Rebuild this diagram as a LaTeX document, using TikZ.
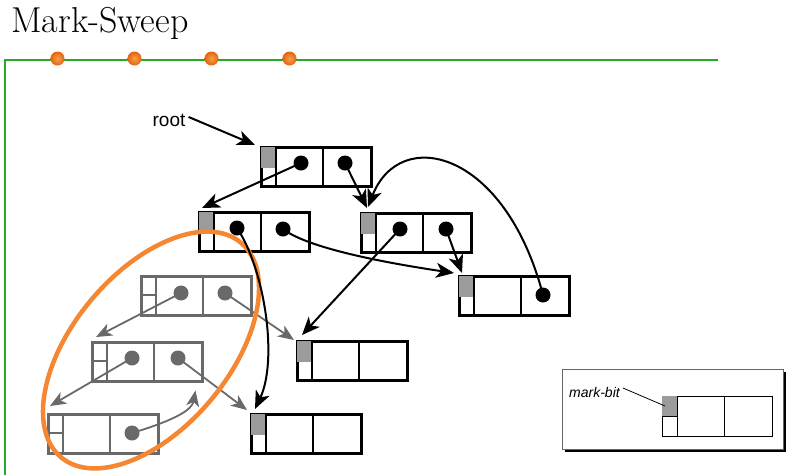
\documentclass[tikz,border=0pt]{standalone}
\usepackage{fontspec}
\usepackage{tikz}
\usetikzlibrary{arrows.meta, shadows, calc}
\newfontfamily\labelfont{Liberation Sans}
\definecolor{framegreen}{RGB}{40,170,40}
\definecolor{dotorange}{RGB}{225,100,20}
\definecolor{dotlight}{RGB}{250,160,70}
\definecolor{ringorange}{RGB}{245,135,50}
\definecolor{markgray}{RGB}{155,155,155}
\definecolor{deadgray}{RGB}{105,105,105}

\tikzset{
  objbox/.style={draw, rectangle, anchor=north west, minimum width=110pt,
    minimum height=39pt, inner sep=0pt, line width=2.5pt},
  deadbox/.style={objbox, draw=deadgray},
  dot/.style={circle, fill, inner sep=0pt, minimum size=15pt},
  deaddot/.style={dot, fill=deadgray},
  ptr/.style={-{Stealth[length=18pt,width=15pt,inset=5pt]}, line width=2pt},
  deadptr/.style={-{Stealth[length=16pt,width=13pt,inset=4.5pt]}, line width=1.8pt, deadgray},
}

\begin{document}
\begin{tikzpicture}[x=1pt, y=-1pt]
    \useasboundingbox (0,0) rectangle (802,475);

    % title and frame
    \node[anchor=base west, inner sep=0pt, font=\fontsize{36}{40}\selectfont] (title) at (11,32) {Mark-Sweep};
    \draw[framegreen, line width=1.3pt] (718,60) -- (5,60) -- (5,475);
    \foreach \x in {59,136,213,291}
        \shade[inner color=dotlight, outer color=dotorange] (\x-1.5,60-1.5) circle (7pt);

    % heap objects
    \node[objbox] (objA) at (260,146) {};
    \node[objbox] (objB) at (198,211) {};
    \node[objbox] (objC) at (360,212) {};
    \node[objbox] (objD) at (458,275) {};
    \node[objbox] (objE) at (296,340) {};
    \node[objbox] (objF) at (250,413) {};
    \node[deadbox] (objG) at (140,275) {};
    \node[deadbox] (objH) at (91,341) {};
    \node[deadbox] (objI) at (47,413) {};

    \foreach \o in {objA,objB,objC,objD,objE,objF} {
        \fill[markgray] ([xshift=1.25pt,yshift=-1.25pt]\o.north west) rectangle ([xshift=14.8pt,yshift=-22pt]\o.north west);
        \draw[line width=2.5pt] ([xshift=16pt]\o.north west) -- ([xshift=16pt]\o.south west)
            ([xshift=63pt]\o.north west) -- ([xshift=63pt]\o.south west);
    }
    \foreach \o in {objG,objH,objI} {
        \draw[deadgray, line width=2.5pt] ([xshift=16pt]\o.north west) -- ([xshift=16pt]\o.south west)
            ([xshift=63pt]\o.north west) -- ([xshift=63pt]\o.south west)
            ([yshift=-20pt]\o.north west) -- ([xshift=16pt,yshift=-20pt]\o.north west);
    }

    % pointers
    \node[dot] (a1) at (301,163) {};
    \node[dot] (a2) at (345,163) {};
    \node[dot] (b1) at (237,228) {};
    \node[dot] (b2) at (283,229) {};
    \node[dot] (c1) at (400,229) {};
    \node[dot] (c2) at (446,229) {};
    \node[dot] (d2) at (543,295) {};
    \node[deaddot] (g1) at (181,293) {};
    \node[deaddot] (g2) at (225,293) {};
    \node[deaddot] (h1) at (132,358) {};
    \node[deaddot] (h2) at (178,358) {};
    \node[deaddot] (i2) at (132,433) {};

    \draw[deadptr] (g1.center) -- ([xshift=5pt,yshift=4pt]objH.north west);
    \draw[deadptr] (g2.center) -- ([xshift=-2pt]objE.north west);
    \draw[deadptr] (h1.center) -- ([xshift=3pt,yshift=7pt]objI.north west);
    \draw[deadptr] (h2.center) -- ([xshift=-3pt,yshift=3pt]objF.north west);
    \draw[deadptr] (i2.center) .. controls (175,420) and (192,410) .. ([xshift=-8pt,yshift=-8pt]objH.south east);

    \draw[ringorange, line width=4.5pt, rotate around={50:(151,350)}] (151,350) ellipse [x radius=140pt, y radius=78pt];

    \node[anchor=base, inner sep=0pt, font=\labelfont\fontsize{19}{22}\selectfont] (root) at (169,126) {root};
    \draw[ptr] ([xshift=3pt,yshift=3pt]root.east) -- ([xshift=-5pt,yshift=1pt]objA.north west);
    \draw[ptr] (a1.center) -- ([xshift=4pt,yshift=3pt]objB.north west);
    \draw[ptr] (a2.center) -- ([xshift=7pt,yshift=4pt]objC.north west);
    \draw[ptr] (d2.center) .. controls (505,150) and (400,125) .. ([xshift=8pt,yshift=5pt]objC.north west);
    \draw[ptr] (b2.center) .. controls (310,250) and (400,265) .. ([xshift=-4pt,yshift=2pt]objD.north west);
    \draw[ptr] (c2.center) -- ([xshift=4pt,yshift=2pt]objD.north west);
    \draw[ptr] (c1.center) -- ([xshift=6pt,yshift=5pt]objE.north west);
    \draw[ptr] (b1.center) .. controls (265,270) and (278,360) .. ([xshift=5pt,yshift=4pt]objF.north west);

    % legend
    \node[draw=black!60, fill=white, line width=0.8pt, anchor=north west, minimum width=221pt, minimum height=80pt,
        drop shadow={shadow xshift=3pt, shadow yshift=-3pt, fill=black, opacity=1}] (legend) at (562,369) {};
    \node[objbox, line width=0.8pt, minimum height=40pt] (legrec) at (662,396) {};
    \fill[markgray] ([xshift=0.4pt,yshift=-0.4pt]legrec.north west) rectangle ([xshift=15pt,yshift=-20pt]legrec.north west);
    \draw[line width=0.8pt] ([xshift=15pt]legrec.north west) -- ([xshift=15pt]legrec.south west)
        ([xshift=62pt]legrec.north west) -- ([xshift=62pt]legrec.south west)
        ([yshift=-20pt]legrec.north west) -- ([xshift=15pt,yshift=-20pt]legrec.north west);
    \node[anchor=base west, inner sep=0pt, font=\labelfont\itshape\fontsize{14}{16}\selectfont] (markbit) at (569,397) {mark-bit};
    \draw[line width=0.8pt] ([xshift=3pt,yshift=4pt]markbit.east) -- ([xshift=3pt,yshift=-10pt]legrec.north west);
\end{tikzpicture}
\end{document}
